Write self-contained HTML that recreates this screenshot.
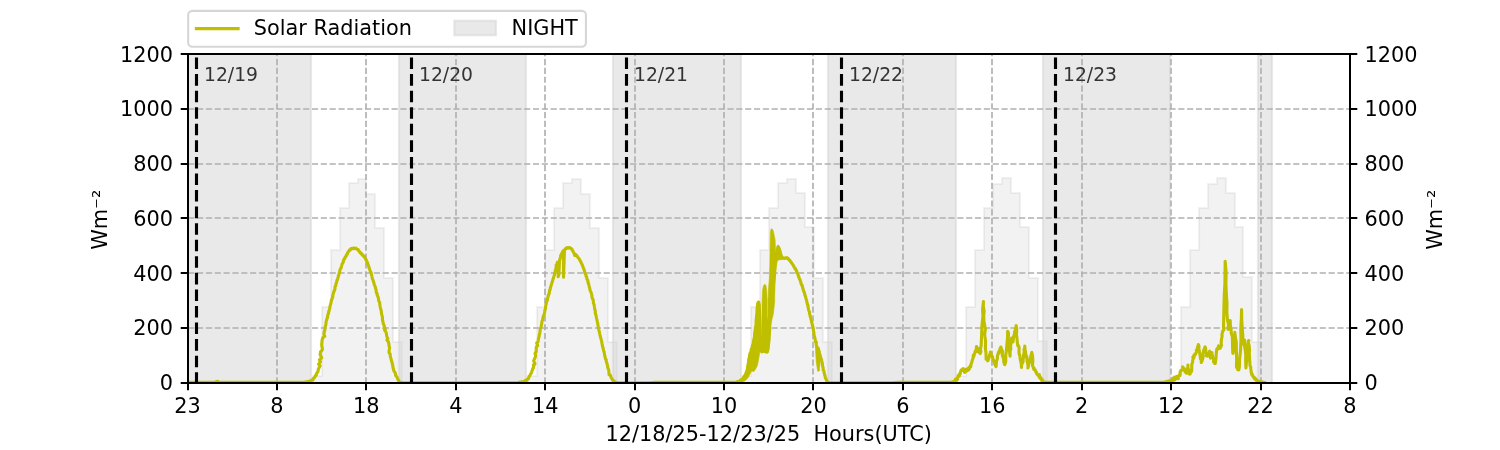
<!DOCTYPE html>
<html><head><meta charset="utf-8"><style>html,body{margin:0;padding:0;background:#fff;width:1500px;height:450px;overflow:hidden}svg{display:block;will-change:transform}</style></head>
<body>
<svg width="1500" height="450" viewBox="0 0 1500 450" font-family="'DejaVu Sans', 'Liberation Sans', sans-serif">
<rect x="0" y="0" width="1500" height="450" fill="#ffffff"/>
<defs><clipPath id="ax"><rect x="187.5" y="54.0" width="1162.5" height="329.0"/></clipPath></defs>
<g clip-path="url(#ax)">
<polygon points="313.00,383.00 313.00,376.00 322.00,376.00 322.00,307.00 331.00,307.00 331.00,250.00 340.00,250.00 340.00,208.00 349.00,208.00 349.00,183.00 358.00,183.00 358.00,179.00 366.00,179.00 366.00,194.00 375.00,194.00 375.00,228.00 384.00,228.00 384.00,278.00 393.00,278.00 393.00,342.00 402.00,342.00 402.00,383.00" fill="#808080" fill-opacity="0.1" stroke="#808080" stroke-opacity="0.1" stroke-width="2.08"/>
<polygon points="528.00,383.00 528.00,376.00 537.00,376.00 537.00,307.00 545.00,307.00 545.00,250.00 554.00,250.00 554.00,208.00 563.00,208.00 563.00,183.00 572.00,183.00 572.00,179.00 581.00,179.00 581.00,194.00 590.00,194.00 590.00,228.00 599.00,228.00 599.00,278.00 608.00,278.00 608.00,342.00 617.00,342.00 617.00,383.00" fill="#808080" fill-opacity="0.1" stroke="#808080" stroke-opacity="0.1" stroke-width="2.08"/>
<polygon points="742.00,383.00 742.00,376.00 751.00,376.00 751.00,307.00 760.00,307.00 760.00,250.00 769.00,250.00 769.00,208.00 778.00,208.00 778.00,183.00 787.00,183.00 787.00,179.00 796.00,179.00 796.00,193.00 805.00,193.00 805.00,227.00 814.00,227.00 814.00,278.00 823.00,278.00 823.00,342.00 832.00,342.00 832.00,383.00" fill="#808080" fill-opacity="0.1" stroke="#808080" stroke-opacity="0.1" stroke-width="2.08"/>
<polygon points="957.00,383.00 957.00,376.00 966.00,376.00 966.00,307.00 975.00,307.00 975.00,250.00 984.00,250.00 984.00,208.00 993.00,208.00 993.00,184.00 1002.00,184.00 1002.00,178.00 1011.00,178.00 1011.00,193.00 1020.00,193.00 1020.00,227.00 1029.00,227.00 1029.00,278.00 1038.00,278.00 1038.00,341.00 1047.00,341.00 1047.00,383.00" fill="#808080" fill-opacity="0.1" stroke="#808080" stroke-opacity="0.1" stroke-width="2.08"/>
<polygon points="1172.00,383.00 1172.00,376.00 1181.00,376.00 1181.00,307.00 1190.00,307.00 1190.00,250.00 1199.00,250.00 1199.00,208.00 1208.00,208.00 1208.00,184.00 1217.00,184.00 1217.00,178.00 1226.00,178.00 1226.00,193.00 1235.00,193.00 1235.00,227.00 1243.00,227.00 1243.00,277.00 1252.00,277.00 1252.00,342.00 1261.00,342.00 1261.00,383.00" fill="#808080" fill-opacity="0.1" stroke="#808080" stroke-opacity="0.1" stroke-width="2.08"/>
<rect x="188" y="49.0" width="123" height="338.5" fill="#d3d3d3" fill-opacity="0.5" stroke="#d3d3d3" stroke-opacity="0.5" stroke-width="2.08"/>
<rect x="399" y="49.0" width="127" height="338.5" fill="#d3d3d3" fill-opacity="0.5" stroke="#d3d3d3" stroke-opacity="0.5" stroke-width="2.08"/>
<rect x="613" y="49.0" width="128" height="338.5" fill="#d3d3d3" fill-opacity="0.5" stroke="#d3d3d3" stroke-opacity="0.5" stroke-width="2.08"/>
<rect x="828" y="49.0" width="128" height="338.5" fill="#d3d3d3" fill-opacity="0.5" stroke="#d3d3d3" stroke-opacity="0.5" stroke-width="2.08"/>
<rect x="1043" y="49.0" width="127" height="338.5" fill="#d3d3d3" fill-opacity="0.5" stroke="#d3d3d3" stroke-opacity="0.5" stroke-width="2.08"/>
<rect x="1258" y="49.0" width="14" height="338.5" fill="#d3d3d3" fill-opacity="0.5" stroke="#d3d3d3" stroke-opacity="0.5" stroke-width="2.08"/>
<line x1="277" y1="383.4" x2="277" y2="54.0" stroke="#b0b0b0" stroke-width="1.667" stroke-dasharray="6.17 2.67"/>
<line x1="366" y1="383.4" x2="366" y2="54.0" stroke="#b0b0b0" stroke-width="1.667" stroke-dasharray="6.17 2.67"/>
<line x1="456" y1="383.4" x2="456" y2="54.0" stroke="#b0b0b0" stroke-width="1.667" stroke-dasharray="6.17 2.67"/>
<line x1="545" y1="383.4" x2="545" y2="54.0" stroke="#b0b0b0" stroke-width="1.667" stroke-dasharray="6.17 2.67"/>
<line x1="635" y1="383.4" x2="635" y2="54.0" stroke="#b0b0b0" stroke-width="1.667" stroke-dasharray="6.17 2.67"/>
<line x1="724" y1="383.4" x2="724" y2="54.0" stroke="#b0b0b0" stroke-width="1.667" stroke-dasharray="6.17 2.67"/>
<line x1="813" y1="383.4" x2="813" y2="54.0" stroke="#b0b0b0" stroke-width="1.667" stroke-dasharray="6.17 2.67"/>
<line x1="903" y1="383.4" x2="903" y2="54.0" stroke="#b0b0b0" stroke-width="1.667" stroke-dasharray="6.17 2.67"/>
<line x1="992" y1="383.4" x2="992" y2="54.0" stroke="#b0b0b0" stroke-width="1.667" stroke-dasharray="6.17 2.67"/>
<line x1="1082" y1="383.4" x2="1082" y2="54.0" stroke="#b0b0b0" stroke-width="1.667" stroke-dasharray="6.17 2.67"/>
<line x1="1171" y1="383.4" x2="1171" y2="54.0" stroke="#b0b0b0" stroke-width="1.667" stroke-dasharray="6.17 2.67"/>
<line x1="1261" y1="383.4" x2="1261" y2="54.0" stroke="#b0b0b0" stroke-width="1.667" stroke-dasharray="6.17 2.67"/>
<line x1="188.2" y1="328" x2="1350.0" y2="328" stroke="#b0b0b0" stroke-width="1.667" stroke-dasharray="6.17 2.67"/>
<line x1="188.2" y1="273" x2="1350.0" y2="273" stroke="#b0b0b0" stroke-width="1.667" stroke-dasharray="6.17 2.67"/>
<line x1="188.2" y1="218" x2="1350.0" y2="218" stroke="#b0b0b0" stroke-width="1.667" stroke-dasharray="6.17 2.67"/>
<line x1="188.2" y1="164" x2="1350.0" y2="164" stroke="#b0b0b0" stroke-width="1.667" stroke-dasharray="6.17 2.67"/>
<line x1="188.2" y1="109" x2="1350.0" y2="109" stroke="#b0b0b0" stroke-width="1.667" stroke-dasharray="6.17 2.67"/>
<polyline points="187.50,382.26 187.80,382.26 188.10,382.26 188.41,382.26 188.71,382.26 189.01,382.26 189.31,382.26 189.62,382.26 189.92,382.26 190.22,382.26 190.52,382.26 190.82,382.26 191.13,382.26 191.43,382.26 191.73,382.26 192.03,382.26 192.34,382.26 192.64,382.26 192.94,382.26 193.24,382.26 193.54,382.26 193.85,382.26 194.15,382.26 194.45,382.26 194.75,382.26 195.05,382.26 195.36,382.26 195.66,382.26 195.96,382.26 196.26,382.26 196.57,382.26 196.87,382.26 197.17,382.26 197.47,382.26 197.77,382.26 198.08,382.26 198.38,382.26 198.68,382.26 198.98,382.26 199.29,382.26 199.59,382.26 199.89,382.26 200.19,382.26 200.49,382.26 200.80,382.26 201.10,382.26 201.40,382.26 201.70,382.26 202.01,382.26 202.31,382.26 202.61,382.26 202.91,382.26 203.21,382.26 203.52,382.26 203.82,382.26 204.12,382.26 204.42,382.26 204.73,382.26 205.03,382.26 205.33,382.26 205.63,382.26 205.93,382.26 206.24,382.26 206.54,382.26 206.84,382.26 207.14,382.26 207.45,382.26 207.75,382.26 208.05,382.26 208.35,382.26 208.65,382.26 208.96,382.26 209.26,382.26 209.56,382.26 209.86,382.26 210.16,382.26 210.47,382.26 210.77,382.26 211.07,382.26 211.37,382.26 211.68,382.26 211.98,382.26 212.28,382.26 212.58,382.26 212.88,382.26 213.19,382.26 213.49,382.26 213.79,382.26 214.09,382.26 214.40,382.26 214.70,382.26 215.00,382.26 215.40,382.04 215.80,381.82 216.20,381.60 216.53,381.53 216.87,381.47 217.20,381.40 217.53,381.47 217.87,381.53 218.20,381.60 218.50,381.76 218.80,381.93 219.10,382.10 219.40,382.26 219.70,382.26 220.00,382.26 220.30,382.26 220.60,382.26 220.90,382.26 221.20,382.26 221.50,382.26 221.80,382.26 222.10,382.26 222.40,382.26 222.70,382.26 223.00,382.26 223.30,382.26 223.60,382.26 223.90,382.26 224.20,382.26 224.50,382.26 224.80,382.26 225.10,382.26 225.40,382.26 225.70,382.26 226.00,382.26 226.30,382.26 226.60,382.26 226.90,382.26 227.20,382.26 227.50,382.26 227.80,382.26 228.10,382.26 228.40,382.26 228.70,382.26 229.00,382.26 229.30,382.26 229.60,382.26 229.90,382.26 230.20,382.26 230.50,382.26 230.80,382.26 231.10,382.26 231.40,382.26 231.70,382.26 232.00,382.26 232.30,382.26 232.60,382.26 232.90,382.26 233.20,382.26 233.50,382.26 233.80,382.26 234.10,382.26 234.40,382.26 234.70,382.26 235.00,382.26 235.30,382.26 235.60,382.26 235.90,382.26 236.20,382.26 236.50,382.26 236.80,382.26 237.10,382.26 237.40,382.26 237.70,382.26 238.00,382.26 238.30,382.26 238.60,382.26 238.90,382.26 239.20,382.26 239.50,382.26 239.80,382.26 240.10,382.26 240.40,382.26 240.70,382.26 241.00,382.26 241.30,382.26 241.60,382.26 241.90,382.26 242.20,382.26 242.50,382.26 242.80,382.26 243.10,382.26 243.40,382.26 243.70,382.26 244.00,382.26 244.30,382.26 244.60,382.26 244.90,382.26 245.20,382.26 245.50,382.26 245.80,382.26 246.10,382.26 246.40,382.26 246.70,382.26 247.00,382.26 247.30,382.26 247.60,382.26 247.90,382.26 248.20,382.26 248.50,382.26 248.80,382.26 249.10,382.26 249.40,382.26 249.70,382.26 250.00,382.26 250.30,382.26 250.60,382.26 250.90,382.26 251.20,382.26 251.50,382.26 251.80,382.26 252.10,382.26 252.40,382.26 252.70,382.26 253.00,382.26 253.30,382.26 253.60,382.26 253.90,382.26 254.20,382.26 254.50,382.26 254.80,382.26 255.10,382.26 255.40,382.26 255.70,382.26 256.00,382.26 256.30,382.26 256.60,382.26 256.90,382.26 257.20,382.26 257.50,382.26 257.80,382.26 258.10,382.26 258.40,382.26 258.70,382.26 259.00,382.26 259.30,382.26 259.60,382.26 259.90,382.26 260.20,382.26 260.50,382.26 260.80,382.26 261.10,382.26 261.40,382.26 261.70,382.26 262.00,382.26 262.30,382.26 262.60,382.26 262.90,382.26 263.20,382.26 263.50,382.26 263.80,382.26 264.10,382.26 264.40,382.26 264.70,382.26 265.00,382.26 265.30,382.26 265.60,382.26 265.90,382.26 266.20,382.26 266.50,382.26 266.80,382.26 267.10,382.26 267.40,382.26 267.70,382.26 268.00,382.26 268.30,382.26 268.60,382.26 268.90,382.26 269.20,382.26 269.50,382.26 269.80,382.26 270.10,382.26 270.40,382.26 270.70,382.26 271.00,382.26 271.30,382.26 271.60,382.26 271.90,382.26 272.20,382.26 272.50,382.26 272.80,382.26 273.10,382.26 273.40,382.26 273.70,382.26 274.00,382.26 274.30,382.26 274.60,382.26 274.90,382.26 275.20,382.26 275.50,382.26 275.80,382.26 276.10,382.26 276.40,382.26 276.70,382.26 277.00,382.26 277.30,382.26 277.60,382.26 277.90,382.26 278.20,382.26 278.50,382.26 278.80,382.26 279.10,382.26 279.40,382.26 279.70,382.26 280.00,382.26 280.30,382.26 280.60,382.26 280.90,382.26 281.20,382.26 281.50,382.26 281.80,382.26 282.10,382.26 282.40,382.26 282.70,382.26 283.00,382.26 283.30,382.26 283.60,382.26 283.90,382.26 284.20,382.26 284.50,382.26 284.80,382.26 285.10,382.26 285.40,382.26 285.70,382.26 286.00,382.26 286.30,382.26 286.60,382.26 286.90,382.26 287.20,382.26 287.50,382.26 287.80,382.26 288.10,382.26 288.40,382.26 288.70,382.26 289.00,382.26 289.30,382.26 289.60,382.26 289.90,382.26 290.20,382.26 290.50,382.26 290.80,382.26 291.10,382.26 291.40,382.26 291.70,382.26 292.00,382.26 292.30,382.26 292.60,382.26 292.90,382.26 293.20,382.26 293.50,382.26 293.80,382.26 294.10,382.26 294.40,382.26 294.70,382.26 295.00,382.26 295.30,382.26 295.60,382.26 295.90,382.26 296.20,382.26 296.50,382.26 296.80,382.26 297.10,382.26 297.40,382.26 297.70,382.26 298.00,382.26 298.30,382.26 298.60,382.26 298.90,382.26 299.20,382.26 299.50,382.26 299.80,382.26 300.10,382.26 300.40,382.26 300.70,382.26 301.00,382.26 301.30,382.26 301.60,382.26 301.90,382.26 302.20,382.26 302.50,382.26 302.80,382.26 303.10,382.26 303.40,382.26 303.70,382.26 304.00,382.26 304.33,382.17 304.67,382.09 305.00,382.00 305.30,381.96 305.60,381.92 305.90,381.88 306.20,381.84 306.50,381.80 306.80,381.76 307.10,381.72 307.40,381.68 307.70,381.64 308.00,381.60 308.31,381.51 308.62,381.42 308.93,381.33 309.24,381.24 309.56,381.16 309.87,381.07 310.15,381.02 310.70,380.86 310.80,380.86 310.96,380.62 311.49,380.63 311.54,380.11 311.85,380.27 312.47,379.55 312.93,380.01 313.08,379.58 313.16,378.69 313.68,378.26 313.85,377.92 314.10,377.61 314.64,377.41 315.01,376.80 315.33,376.23 315.65,375.38 316.25,375.30 316.50,374.51 316.57,373.59 316.89,372.90 317.46,372.33 317.82,371.52 318.20,371.04 318.05,369.80 318.91,367.98 320.16,365.90 318.56,364.13 320.51,361.77 319.39,359.83 321.67,357.76 320.16,354.75 320.47,352.06 322.35,349.68 322.16,347.45 321.67,345.23 321.86,342.64 322.16,339.92 322.71,337.77 324.72,336.30 323.92,334.27 324.22,331.93 324.88,330.10 324.83,328.68 325.22,326.50 325.84,324.88 325.93,323.03 326.16,321.72 326.57,320.07 326.95,318.72 327.55,317.49 327.67,316.51 327.79,314.76 328.47,313.97 328.45,312.28 329.01,311.56 329.05,310.32 329.70,308.82 329.79,307.22 329.91,306.57 330.32,305.14 330.64,303.98 331.12,302.36 331.23,301.40 331.48,299.81 332.05,299.09 332.39,297.54 332.85,296.33 332.72,295.22 333.25,293.92 333.43,292.99 333.94,291.67 334.15,291.04 334.78,289.73 334.95,288.52 334.99,286.98 335.24,286.44 335.90,285.32 335.88,283.94 336.44,282.85 336.68,281.89 336.88,280.42 337.53,279.51 337.86,278.22 338.21,277.21 338.31,275.90 338.91,274.88 338.99,273.66 339.54,272.36 339.74,271.07 340.04,270.08 340.11,269.27 340.89,268.60 341.08,267.43 341.41,266.73 341.59,266.08 341.73,265.19 342.03,264.26 342.58,263.17 343.01,262.52 343.29,261.99 343.43,260.52 343.78,260.16 344.05,258.97 344.72,258.74 344.80,258.32 345.06,257.59 345.31,256.84 345.93,256.61 346.28,255.66 346.45,255.03 346.54,254.58 347.21,254.25 347.46,253.75 347.56,252.62 347.96,252.12 348.16,251.64 348.70,251.36 348.88,251.26 349.55,250.65 349.44,250.02 350.17,249.69 350.43,249.72 350.57,249.54 350.76,248.75 351.31,248.57 351.82,248.62 351.81,248.38 352.38,248.56 352.71,248.61 353.13,248.72 353.39,248.09 353.60,248.09 353.68,248.31 354.35,248.12 354.44,248.25 354.97,248.39 355.24,248.57 355.45,248.60 356.04,248.24 356.38,248.82 356.31,248.77 356.90,249.22 357.11,249.11 357.69,249.41 358.06,249.56 358.24,249.76 358.61,250.57 358.90,250.89 359.02,251.40 359.74,251.83 359.83,252.09 360.04,252.56 360.62,252.55 360.55,253.00 361.10,253.62 361.38,253.48 361.85,253.89 362.16,254.28 362.24,255.03 362.46,254.89 362.96,255.61 363.43,255.90 363.80,256.07 364.11,256.10 364.06,256.72 364.40,257.33 364.87,257.65 365.27,258.14 365.31,258.48 365.87,259.31 365.85,259.75 366.53,260.28 366.64,260.81 366.92,261.78 367.25,262.21 367.73,263.31 367.75,264.35 368.13,264.97 368.50,265.51 368.72,266.59 369.23,267.78 369.18,268.30 369.41,269.11 370.06,270.27 370.19,270.70 370.35,271.75 371.01,272.24 371.26,273.26 371.29,274.49 371.86,275.65 372.02,276.95 372.22,278.12 372.55,279.06 372.94,279.93 373.40,281.19 373.65,282.27 374.05,283.18 374.21,284.61 374.75,285.63 375.18,286.78 375.50,287.67 375.77,289.23 376.17,290.03 376.20,291.61 376.47,292.82 377.13,293.37 377.13,294.94 377.46,295.65 378.07,297.03 378.38,297.98 378.51,299.52 378.64,300.34 379.29,301.99 379.73,302.81 379.80,304.65 380.10,305.98 380.24,306.93 380.50,308.29 381.03,310.01 381.36,311.65 381.50,313.59 382.16,316.04 382.53,317.32 382.42,319.82 382.95,321.59 383.21,323.28 383.64,324.45 384.10,325.25 384.59,327.30 383.96,328.13 385.28,329.30 384.61,330.27 385.49,331.34 386.48,333.35 386.45,334.62 386.62,335.39 386.88,336.70 387.88,338.45 386.89,340.01 388.08,341.33 388.52,342.41 388.98,344.33 388.93,345.67 389.36,346.76 389.60,347.87 389.24,350.27 388.96,352.16 390.23,354.39 390.35,356.61 390.88,358.19 391.19,359.58 391.44,360.68 391.98,362.09 392.14,363.40 392.59,364.12 392.72,365.85 392.85,366.84 393.06,367.93 393.53,369.09 393.78,370.88 394.25,371.34 394.78,372.12 395.12,372.91 395.35,373.25 395.57,374.47 395.62,375.33 396.00,375.74 396.33,376.50 396.87,376.80 397.35,377.67 397.45,378.41 397.68,378.80 398.14,379.60 398.27,380.33 398.59,380.45 399.00,381.40 399.33,381.60 399.67,381.80 400.00,382.00 400.33,382.20 400.67,382.40 401.00,382.60 401.30,382.62 401.60,382.63 401.90,382.65 402.20,382.66 402.50,382.68 402.80,382.69 403.10,382.70 403.40,382.72 403.70,382.74 404.00,382.75 404.30,382.76 404.60,382.78 404.90,382.80 405.20,382.81 405.50,382.82 405.80,382.84 406.10,382.85 406.40,382.87 406.70,382.88 407.00,382.90 407.00,382.90 407.30,382.90 407.60,382.90 407.90,382.90 408.20,382.90 408.50,382.90 408.80,382.90 409.10,382.90 409.40,382.90 409.70,382.90 410.00,382.90 410.30,382.90 410.60,382.90 410.90,382.90 411.20,382.90 411.50,382.90 411.80,382.90 412.10,382.90 412.40,382.90 412.70,382.90 413.00,382.90 413.30,382.90 413.60,382.90 413.90,382.90 414.20,382.90 414.50,382.90 414.80,382.90 415.10,382.90 415.40,382.90 415.70,382.90 416.00,382.90 416.30,382.90 416.60,382.90 416.90,382.90 417.20,382.90 417.50,382.90 417.80,382.90 418.10,382.90 418.40,382.90 418.70,382.90 419.00,382.90 419.30,382.90 419.60,382.90 419.90,382.90 420.20,382.90 420.50,382.90 420.80,382.90 421.10,382.90 421.40,382.90 421.70,382.90 422.00,382.90 422.30,382.90 422.60,382.90 422.90,382.90 423.20,382.90 423.50,382.90 423.80,382.90 424.10,382.90 424.40,382.90 424.70,382.90 425.00,382.90 425.30,382.90 425.60,382.90 425.90,382.90 426.20,382.90 426.50,382.90 426.80,382.90 427.10,382.90 427.40,382.90 427.70,382.90 428.00,382.90 428.30,382.90 428.60,382.90 428.90,382.90 429.20,382.90 429.50,382.90 429.80,382.90 430.10,382.90 430.40,382.90 430.70,382.90 431.00,382.90 431.30,382.90 431.60,382.90 431.90,382.90 432.20,382.90 432.50,382.90 432.80,382.90 433.10,382.90 433.40,382.90 433.70,382.90 434.00,382.90 434.30,382.90 434.60,382.90 434.90,382.90 435.20,382.90 435.50,382.90 435.80,382.90 436.10,382.90 436.40,382.90 436.70,382.90 437.00,382.90 437.30,382.90 437.60,382.90 437.90,382.90 438.20,382.90 438.50,382.90 438.80,382.90 439.10,382.90 439.40,382.90 439.70,382.90 440.00,382.90 440.30,382.90 440.60,382.90 440.90,382.90 441.20,382.90 441.50,382.90 441.80,382.90 442.10,382.90 442.40,382.90 442.70,382.90 443.00,382.90 443.30,382.90 443.60,382.90 443.90,382.90 444.20,382.90 444.50,382.90 444.80,382.90 445.10,382.90 445.40,382.90 445.70,382.90 446.00,382.90 446.30,382.90 446.60,382.90 446.90,382.90 447.20,382.90 447.50,382.90 447.80,382.90 448.10,382.90 448.40,382.90 448.70,382.90 449.00,382.90 449.30,382.90 449.60,382.90 449.90,382.90 450.20,382.90 450.50,382.90 450.80,382.90 451.10,382.90 451.40,382.90 451.70,382.90 452.00,382.90 452.30,382.90 452.60,382.90 452.90,382.90 453.20,382.90 453.50,382.90 453.80,382.90 454.10,382.90 454.40,382.90 454.70,382.90 455.00,382.90 455.30,382.90 455.60,382.90 455.90,382.90 456.20,382.90 456.50,382.90 456.80,382.90 457.10,382.90 457.40,382.90 457.70,382.90 458.00,382.90 458.30,382.90 458.60,382.90 458.90,382.90 459.20,382.90 459.50,382.90 459.80,382.90 460.10,382.90 460.40,382.90 460.70,382.90 461.00,382.90 461.30,382.90 461.60,382.90 461.90,382.90 462.20,382.90 462.50,382.90 462.80,382.90 463.10,382.90 463.40,382.90 463.70,382.90 464.00,382.90 464.30,382.90 464.60,382.90 464.90,382.90 465.20,382.90 465.50,382.90 465.80,382.90 466.10,382.90 466.40,382.90 466.70,382.90 467.00,382.90 467.30,382.90 467.60,382.90 467.90,382.90 468.20,382.90 468.50,382.90 468.80,382.90 469.10,382.90 469.40,382.90 469.70,382.90 470.00,382.90 470.30,382.90 470.60,382.90 470.90,382.90 471.20,382.90 471.50,382.90 471.80,382.90 472.10,382.90 472.40,382.90 472.70,382.90 473.00,382.90 473.30,382.90 473.60,382.90 473.90,382.90 474.20,382.90 474.50,382.90 474.80,382.90 475.10,382.90 475.40,382.90 475.70,382.90 476.00,382.90 476.30,382.90 476.60,382.90 476.90,382.90 477.20,382.90 477.50,382.90 477.80,382.90 478.10,382.90 478.40,382.90 478.70,382.90 479.00,382.90 479.30,382.90 479.60,382.90 479.90,382.90 480.20,382.90 480.50,382.90 480.80,382.90 481.10,382.90 481.40,382.90 481.70,382.90 482.00,382.90 482.30,382.90 482.60,382.90 482.90,382.90 483.20,382.90 483.50,382.90 483.80,382.90 484.10,382.90 484.40,382.90 484.70,382.90 485.00,382.90 485.30,382.90 485.60,382.90 485.90,382.90 486.20,382.90 486.50,382.90 486.80,382.90 487.10,382.90 487.40,382.90 487.70,382.90 488.00,382.90 488.30,382.90 488.60,382.90 488.90,382.90 489.20,382.90 489.50,382.90 489.80,382.90 490.10,382.90 490.40,382.90 490.70,382.90 491.00,382.90 491.30,382.90 491.60,382.90 491.90,382.90 492.20,382.90 492.50,382.90 492.80,382.90 493.10,382.90 493.40,382.90 493.70,382.90 494.00,382.90 494.30,382.90 494.60,382.90 494.90,382.90 495.20,382.90 495.50,382.90 495.80,382.90 496.10,382.90 496.40,382.90 496.70,382.90 497.00,382.90 497.30,382.90 497.60,382.90 497.90,382.90 498.20,382.90 498.50,382.90 498.80,382.90 499.10,382.90 499.40,382.90 499.70,382.90 500.00,382.90 500.30,382.90 500.60,382.90 500.90,382.90 501.20,382.90 501.50,382.90 501.80,382.90 502.10,382.90 502.40,382.90 502.70,382.90 503.00,382.90 503.30,382.90 503.60,382.90 503.90,382.90 504.20,382.90 504.50,382.90 504.80,382.90 505.10,382.90 505.40,382.90 505.70,382.90 506.00,382.90 506.30,382.90 506.60,382.90 506.90,382.90 507.20,382.90 507.50,382.90 507.80,382.90 508.10,382.90 508.40,382.90 508.70,382.90 509.00,382.90 509.30,382.90 509.60,382.90 509.90,382.90 510.20,382.90 510.50,382.90 510.80,382.90 511.10,382.90 511.40,382.90 511.70,382.90 512.00,382.90 512.30,382.90 512.60,382.90 512.90,382.90 513.20,382.90 513.50,382.90 513.80,382.90 514.10,382.90 514.40,382.90 514.70,382.90 515.00,382.90 515.30,382.90 515.60,382.90 515.90,382.90 516.20,382.90 516.50,382.90 516.80,382.90 517.10,382.90 517.40,382.90 517.70,382.90 518.00,382.90 518.33,382.67 518.67,382.43 519.00,382.20 519.31,382.16 519.61,382.13 519.92,382.09 520.23,382.06 520.54,382.02 520.84,381.99 521.15,381.95 521.46,381.91 521.76,381.88 522.07,381.84 522.38,381.81 522.69,381.77 522.99,381.74 523.30,381.70 523.60,381.57 523.90,381.43 524.20,381.30 524.50,381.17 524.80,381.03 524.97,380.58 525.23,380.94 525.64,380.91 526.12,380.19 526.57,380.50 526.44,380.16 526.95,379.54 527.55,379.06 527.65,379.23 528.08,378.59 528.54,378.52 528.69,377.47 529.04,377.15 529.17,376.31 529.67,375.80 529.97,375.62 530.32,374.57 530.72,373.92 531.16,373.24 531.61,372.78 531.82,371.52 531.83,371.05 532.49,369.94 532.60,368.77 533.37,368.06 533.48,366.96 534.11,365.34 533.40,364.95 535.03,363.68 533.60,360.86 534.38,359.23 535.41,356.90 535.56,354.87 534.97,353.48 536.24,351.43 536.23,349.28 536.24,347.14 537.65,345.64 536.65,342.92 537.97,341.94 538.26,340.20 538.40,338.78 538.90,337.41 539.14,336.39 539.29,334.63 539.81,333.44 539.96,331.61 540.11,330.50 540.41,328.48 540.97,327.30 541.34,325.71 541.70,324.09 541.73,323.04 541.98,321.33 542.61,320.14 542.70,318.50 543.05,317.66 543.37,315.98 543.85,315.05 544.27,314.06 544.58,312.46 544.84,311.11 544.91,309.93 545.56,308.62 545.55,306.58 545.95,304.92 546.31,303.28 546.55,301.74 547.16,300.57 547.50,299.44 547.48,298.42 548.15,296.93 548.04,295.94 548.61,294.82 549.14,293.73 549.38,292.16 549.56,291.52 549.65,289.87 550.29,289.29 550.28,287.95 550.62,286.87 551.17,285.45 551.26,284.74 551.71,283.67 551.95,282.30 552.53,281.46 552.60,280.30 553.01,279.35 553.41,278.07 553.66,277.17 553.98,276.20 554.27,275.19 554.63,273.94 554.71,272.92 555.15,271.65 555.27,270.40 555.75,269.94 555.88,268.32 556.10,267.45 556.23,267.39 556.17,265.02 556.57,264.65 557.94,262.66 557.25,262.32 558.53,262.32 558.16,276.72 558.90,274.43 559.48,260.43 560.50,257.35 560.64,255.65 560.98,255.16 561.39,254.19 561.98,253.33 562.04,252.79 562.71,251.59 562.97,251.57 563.39,250.52 563.53,277.15 564.48,250.08 564.66,249.71 564.89,249.54 565.38,248.78 565.36,248.70 565.84,248.69 566.31,248.31 566.33,247.76 566.77,247.73 567.40,247.81 567.65,248.05 567.82,247.62 568.13,247.69 568.39,247.82 569.15,247.93 569.11,247.64 569.77,247.62 569.99,247.98 570.57,248.30 570.86,248.34 571.16,248.66 571.57,248.67 571.86,249.00 572.05,249.67 572.18,250.33 572.58,250.42 572.79,250.86 573.28,251.73 573.53,252.28 573.70,252.65 574.18,253.63 574.76,255.61 574.81,254.91 575.61,254.32 575.87,254.84 575.92,255.58 576.65,255.39 576.89,255.82 577.10,256.36 577.40,256.59 577.78,257.32 578.04,257.49 578.61,258.08 579.04,258.74 579.26,259.08 579.64,259.41 579.63,259.92 580.23,260.85 580.31,261.13 580.97,261.76 580.90,262.26 581.25,262.95 581.68,263.66 582.25,264.67 582.35,265.58 582.79,266.45 582.91,266.86 583.23,267.40 583.53,268.63 584.13,269.45 584.28,270.08 584.29,270.88 584.78,272.11 584.99,272.91 585.52,274.20 586.01,275.08 586.01,276.19 586.71,277.03 586.77,278.00 586.99,279.15 587.74,280.01 587.94,281.40 588.01,282.65 588.55,283.30 588.61,284.50 589.19,285.99 589.39,287.32 589.74,288.16 589.95,289.69 590.29,290.81 590.82,291.74 591.14,292.72 591.63,294.42 591.90,295.33 591.87,296.67 592.27,297.91 592.56,298.87 593.17,299.78 593.33,301.28 593.38,302.93 594.16,305.04 594.30,306.18 594.61,308.06 594.77,309.53 595.29,310.71 595.29,312.60 595.57,314.12 596.09,315.55 596.37,317.19 596.70,318.82 597.04,320.19 597.36,321.84 597.81,323.74 597.87,325.18 598.26,326.95 598.63,328.58 598.79,330.03 599.27,331.22 599.35,332.21 599.73,333.83 600.01,334.85 600.27,336.40 600.51,337.09 601.01,338.97 601.32,340.05 601.63,341.13 601.85,342.25 601.91,343.80 602.40,345.05 602.48,346.55 603.01,347.51 603.20,348.91 603.47,349.97 604.11,351.88 604.28,353.10 604.46,354.34 604.66,355.59 605.13,356.98 605.21,358.07 605.53,359.05 606.25,359.84 606.21,361.21 606.56,362.21 607.15,363.90 607.21,364.75 607.62,365.69 607.65,367.45 608.09,368.34 608.72,369.83 608.84,371.79 609.10,374.80 609.72,374.54 610.02,374.90 610.16,375.02 610.69,375.85 610.71,376.45 611.07,377.49 611.36,377.80 612.05,378.81 612.50,380.06 612.74,379.80 613.06,380.62 613.26,380.28 613.48,380.69 613.94,381.09 614.27,381.34 614.60,381.60 614.94,381.79 615.29,381.97 615.63,382.16 615.97,382.34 616.31,382.53 616.66,382.71 617.00,382.90 617.33,382.90 617.67,382.90 618.00,382.90 618.30,382.90 618.60,382.90 618.90,382.90 619.20,382.90 619.50,382.90 619.80,382.90 620.10,382.90 620.40,382.90 620.70,382.90 621.00,382.90 621.30,382.90 621.60,382.90 621.90,382.90 622.20,382.90 622.50,382.90 622.80,382.90 623.10,382.90 623.40,382.90 623.70,382.90 624.00,382.90 624.30,382.90 624.60,382.90 624.90,382.90 625.20,382.90 625.50,382.90 625.80,382.90 626.10,382.90 626.40,382.90 626.70,382.90 627.00,382.90 627.30,382.90 627.60,382.90 627.90,382.90 628.20,382.90 628.50,382.90 628.80,382.90 629.10,382.90 629.40,382.90 629.70,382.90 630.00,382.90 630.30,382.90 630.60,382.90 630.90,382.90 631.20,382.90 631.50,382.90 631.80,382.90 632.10,382.90 632.40,382.90 632.70,382.90 633.00,382.90 633.30,382.90 633.60,382.90 633.90,382.90 634.20,382.90 634.50,382.90 634.80,382.90 635.10,382.90 635.40,382.90 635.70,382.90 636.00,382.90 636.30,382.90 636.60,382.90 636.90,382.90 637.20,382.90 637.50,382.90 637.80,382.90 638.10,382.90 638.40,382.90 638.70,382.90 639.00,382.90 639.30,382.90 639.60,382.90 639.90,382.90 640.20,382.90 640.50,382.90 640.80,382.90 641.10,382.90 641.40,382.90 641.70,382.90 642.00,382.90 642.30,382.90 642.60,382.90 642.90,382.90 643.20,382.90 643.50,382.90 643.80,382.90 644.10,382.90 644.40,382.90 644.70,382.90 645.00,382.90 645.30,382.90 645.60,382.90 645.90,382.90 646.20,382.90 646.50,382.90 646.80,382.90 647.10,382.90 647.40,382.90 647.70,382.90 648.00,382.90 648.30,382.88 648.61,382.85 648.91,382.83 649.22,382.80 649.52,382.78 649.83,382.76 650.13,382.73 650.43,382.71 650.74,382.68 651.04,382.66 651.35,382.64 651.65,382.61 651.96,382.59 652.26,382.57 652.57,382.54 652.87,382.52 653.17,382.49 653.48,382.47 653.78,382.45 654.09,382.42 654.39,382.40 654.70,382.37 655.00,382.35 655.30,382.35 655.60,382.35 655.90,382.35 656.20,382.35 656.50,382.35 656.80,382.35 657.11,382.35 657.41,382.35 657.71,382.35 658.01,382.35 658.31,382.35 658.61,382.35 658.91,382.35 659.21,382.35 659.51,382.35 659.81,382.35 660.11,382.35 660.41,382.35 660.71,382.35 661.02,382.35 661.32,382.35 661.62,382.35 661.92,382.35 662.22,382.35 662.52,382.35 662.82,382.35 663.12,382.34 663.42,382.34 663.72,382.34 664.02,382.34 664.32,382.34 664.62,382.34 664.92,382.34 665.23,382.34 665.53,382.34 665.83,382.34 666.13,382.34 666.43,382.34 666.73,382.34 667.03,382.34 667.33,382.34 667.63,382.34 667.93,382.34 668.23,382.34 668.53,382.34 668.83,382.34 669.14,382.34 669.44,382.34 669.74,382.34 670.04,382.34 670.34,382.34 670.64,382.34 670.94,382.34 671.24,382.34 671.54,382.34 671.84,382.34 672.14,382.34 672.44,382.34 672.74,382.34 673.05,382.34 673.35,382.34 673.65,382.34 673.95,382.34 674.25,382.34 674.55,382.34 674.85,382.34 675.15,382.34 675.45,382.34 675.75,382.34 676.05,382.34 676.35,382.34 676.65,382.34 676.95,382.34 677.26,382.34 677.56,382.34 677.86,382.34 678.16,382.34 678.46,382.34 678.76,382.34 679.06,382.33 679.36,382.33 679.66,382.33 679.96,382.33 680.26,382.33 680.56,382.33 680.86,382.33 681.17,382.33 681.47,382.33 681.77,382.33 682.07,382.33 682.37,382.33 682.67,382.33 682.97,382.33 683.27,382.33 683.57,382.33 683.87,382.33 684.17,382.33 684.47,382.33 684.77,382.33 685.08,382.33 685.38,382.33 685.68,382.33 685.98,382.33 686.28,382.33 686.58,382.33 686.88,382.33 687.18,382.33 687.48,382.33 687.78,382.33 688.08,382.33 688.38,382.33 688.68,382.33 688.98,382.33 689.29,382.33 689.59,382.33 689.89,382.33 690.19,382.33 690.49,382.33 690.79,382.33 691.09,382.33 691.39,382.33 691.69,382.33 691.99,382.33 692.29,382.33 692.59,382.33 692.89,382.33 693.20,382.33 693.50,382.33 693.80,382.33 694.10,382.33 694.40,382.33 694.70,382.33 695.00,382.33 695.30,382.32 695.60,382.32 695.90,382.32 696.20,382.32 696.50,382.32 696.80,382.32 697.11,382.32 697.41,382.32 697.71,382.32 698.01,382.32 698.31,382.32 698.61,382.32 698.91,382.32 699.21,382.32 699.51,382.32 699.81,382.32 700.11,382.32 700.41,382.32 700.71,382.32 701.02,382.32 701.32,382.32 701.62,382.32 701.92,382.32 702.22,382.32 702.52,382.32 702.82,382.32 703.12,382.32 703.42,382.32 703.72,382.32 704.02,382.32 704.32,382.32 704.62,382.32 704.92,382.32 705.23,382.32 705.53,382.32 705.83,382.32 706.13,382.32 706.43,382.32 706.73,382.32 707.03,382.32 707.33,382.32 707.63,382.32 707.93,382.32 708.23,382.32 708.53,382.32 708.83,382.32 709.14,382.32 709.44,382.32 709.74,382.32 710.04,382.32 710.34,382.32 710.64,382.32 710.94,382.32 711.24,382.31 711.54,382.31 711.84,382.31 712.14,382.31 712.44,382.31 712.74,382.31 713.05,382.31 713.35,382.31 713.65,382.31 713.95,382.31 714.25,382.31 714.55,382.31 714.85,382.31 715.15,382.31 715.45,382.31 715.75,382.31 716.05,382.31 716.35,382.31 716.65,382.31 716.95,382.31 717.26,382.31 717.56,382.31 717.86,382.31 718.16,382.31 718.46,382.31 718.76,382.31 719.06,382.31 719.36,382.31 719.66,382.31 719.96,382.31 720.26,382.31 720.56,382.31 720.86,382.31 721.17,382.31 721.47,382.31 721.77,382.31 722.07,382.31 722.37,382.31 722.67,382.31 722.97,382.31 723.27,382.31 723.57,382.31 723.87,382.31 724.17,382.31 724.47,382.31 724.77,382.31 725.08,382.31 725.38,382.31 725.68,382.31 725.98,382.31 726.28,382.31 726.58,382.31 726.88,382.31 727.18,382.30 727.48,382.30 727.78,382.30 728.08,382.30 728.38,382.30 728.68,382.30 728.98,382.30 729.29,382.30 729.59,382.30 729.89,382.30 730.19,382.30 730.49,382.30 730.79,382.30 731.09,382.30 731.39,382.30 731.69,382.30 731.99,382.30 732.29,382.30 732.59,382.30 732.89,382.30 733.20,382.30 733.50,382.30 733.80,382.30 734.10,382.30 734.40,382.30 734.70,382.30 735.00,382.30 735.33,382.27 735.67,382.23 736.00,382.20 736.31,382.12 736.62,382.05 736.92,381.97 737.23,381.89 737.54,381.82 737.85,381.74 738.15,381.66 738.46,381.58 738.77,381.51 739.08,381.43 739.38,381.35 739.69,381.28 740.00,381.20 740.41,380.70 740.46,380.45 741.01,380.55 741.17,380.17 741.73,379.84 741.71,379.35 742.37,379.32 742.35,379.02 742.56,378.98 743.05,378.37 743.40,377.75 743.74,377.63 743.88,377.71 744.09,376.70 744.73,376.02 744.79,375.58 745.04,375.18 745.74,373.92 745.78,373.78 746.04,373.25 746.40,372.08 746.73,371.75 746.93,371.11 747.44,369.21 747.60,367.64 747.99,365.61 748.43,363.57 748.64,361.77 748.85,360.21 749.07,358.99 749.54,357.40 749.57,355.59 749.86,354.06 750.33,352.67 750.72,352.15 751.04,351.26 751.17,349.76 751.43,349.00 751.97,347.96 752.21,346.88 752.45,345.62 753.03,344.03 753.48,342.48 753.49,341.20 753.77,339.87 754.39,337.52 754.55,335.06 754.79,332.72 755.17,329.83 755.50,327.63 756.17,325.20 756.08,320.94 756.53,316.80 757.14,312.68 757.19,309.18 757.74,304.75 757.81,304.34 757.94,303.15 758.70,302.25 758.78,303.53 759.13,304.54 759.27,306.35 760.13,330.16 760.20,334.83 760.69,339.82 760.98,345.30 761.27,347.22 761.91,349.74 761.77,351.93 762.41,351.36 762.59,351.47 763.18,351.06 763.53,350.64 763.61,350.57 763.94,350.20 764.19,349.89 764.51,350.03 764.83,349.79 765.19,349.98 765.57,349.96 766.25,350.13 766.48,350.19 766.54,350.50 767.00,351.10 767.09,351.26 767.34,351.83 767.78,349.96 768.27,347.17 768.43,344.76 769.05,339.90 769.30,335.16 769.70,329.66 769.74,325.25 769.96,320.93 770.41,316.19 770.81,312.49 771.05,309.42 771.17,306.16 771.75,302.87 771.91,299.95 772.32,296.75 772.70,293.83 773.01,291.12 773.02,287.79 773.39,285.15 773.79,280.59 774.35,276.14 774.40,271.89 774.76,266.68 775.06,262.09 775.67,260.22 776.20,257.86 776.39,256.29 776.46,254.63 776.98,253.32 777.38,251.31 777.57,249.71 777.86,248.42 778.08,246.92 778.51,247.75 778.79,248.26 779.15,249.23 779.33,250.12 779.69,250.97 780.07,252.45 780.30,253.81 780.90,255.04 781.30,256.17 781.55,257.91 781.69,257.93 782.00,258.00 782.58,257.98 782.76,257.83 782.92,257.89 783.67,258.05 783.66,258.12 783.94,257.98 784.46,258.32 784.65,258.05 785.25,258.19 785.40,258.08 785.61,257.94 785.85,258.23 786.47,257.92 786.79,257.68 786.72,258.00 787.10,258.12 787.74,258.18 787.65,258.45 788.19,258.67 788.15,259.10 788.65,259.10 789.00,259.61 789.35,260.00 789.69,260.56 790.22,260.63 790.24,261.43 790.55,261.72 791.07,262.12 791.53,262.63 791.44,262.97 791.92,263.42 792.18,263.71 792.68,264.37 792.74,264.65 793.10,265.09 793.51,265.54 793.61,266.04 793.96,267.03 794.29,267.39 794.95,267.96 794.97,268.77 795.66,268.74 795.68,269.61 796.25,270.22 796.51,270.83 796.81,271.58 796.92,272.58 797.47,273.33 797.63,273.74 798.04,274.81 798.45,275.85 798.43,276.47 799.04,277.29 799.14,278.06 799.64,279.51 800.14,279.74 800.29,280.74 800.57,281.53 801.02,282.74 800.87,283.35 801.21,283.68 801.59,284.96 802.25,285.33 802.22,286.25 802.62,287.54 802.84,288.40 803.35,289.75 803.39,290.41 803.86,291.65 804.34,292.37 804.50,293.45 804.85,294.15 804.86,295.24 805.57,296.45 805.67,297.47 805.91,298.51 806.36,299.71 806.71,300.92 806.84,302.18 807.23,303.13 807.38,304.30 808.10,305.77 807.99,306.98 808.49,308.85 808.65,310.06 809.09,311.04 809.55,312.33 809.48,313.74 810.08,315.09 810.19,316.53 810.78,317.79 810.87,318.90 811.31,319.66 811.26,320.88 811.61,322.04 812.03,323.73 812.31,324.79 812.46,325.80 813.27,327.80 813.40,330.50 813.87,332.59 814.02,334.78 814.58,336.90 815.00,338.58 815.33,340.93 815.52,341.83 816.39,342.24 816.17,343.56 816.19,344.79 816.93,346.50 816.78,347.22 817.07,347.45 818.25,348.31 817.25,349.14 818.59,349.74 818.89,351.07 819.09,351.18 818.47,351.83 819.16,352.99 818.92,353.80 819.85,354.21 820.38,356.22 820.49,356.77 820.87,357.68 821.08,358.84 821.57,359.82 821.80,361.54 822.38,363.47 822.51,365.92 823.18,367.78 823.14,369.90 823.86,370.92 824.00,372.25 824.32,373.30 824.62,374.94 825.06,375.92 825.20,377.05 825.35,378.10 825.97,378.69 826.30,379.52 826.50,380.25 826.90,381.30 827.20,381.50 827.50,381.70 827.80,381.90 828.10,382.10 828.40,382.30 828.70,382.50 829.00,382.70 829.31,382.70 829.62,382.70 829.92,382.70 830.23,382.70 830.54,382.70 830.85,382.70 831.15,382.70 831.46,382.70 831.77,382.70 832.08,382.70 832.38,382.70 832.69,382.70 833.00,382.70 833.33,382.70 833.67,382.70 834.00,382.70 834.30,382.70 834.60,382.70 834.90,382.70 835.20,382.70 835.51,382.70 835.81,382.70 836.11,382.70 836.41,382.70 836.71,382.70 837.01,382.70 837.31,382.70 837.61,382.70 837.91,382.70 838.21,382.70 838.52,382.70 838.82,382.70 839.12,382.70 839.42,382.70 839.72,382.70 840.02,382.70 840.32,382.70 840.62,382.70 840.92,382.70 841.22,382.70 841.53,382.70 841.83,382.70 842.13,382.70 842.43,382.70 842.73,382.70 843.03,382.70 843.33,382.70 843.63,382.70 843.93,382.70 844.23,382.70 844.54,382.70 844.84,382.70 845.14,382.70 845.44,382.70 845.74,382.70 846.04,382.70 846.34,382.70 846.64,382.70 846.94,382.70 847.24,382.70 847.55,382.70 847.85,382.70 848.15,382.70 848.45,382.70 848.75,382.70 849.05,382.70 849.35,382.70 849.65,382.70 849.95,382.70 850.26,382.70 850.56,382.70 850.86,382.70 851.16,382.70 851.46,382.70 851.76,382.70 852.06,382.70 852.36,382.70 852.66,382.70 852.96,382.70 853.27,382.70 853.57,382.70 853.87,382.70 854.17,382.70 854.47,382.70 854.77,382.70 855.07,382.70 855.37,382.70 855.67,382.70 855.97,382.70 856.28,382.70 856.58,382.70 856.88,382.70 857.18,382.70 857.48,382.70 857.78,382.70 858.08,382.70 858.38,382.70 858.68,382.70 858.98,382.70 859.29,382.70 859.59,382.70 859.89,382.70 860.19,382.70 860.49,382.70 860.79,382.70 861.09,382.70 861.39,382.70 861.69,382.70 861.99,382.70 862.30,382.70 862.60,382.70 862.90,382.70 863.20,382.70 863.50,382.70 863.80,382.70 864.10,382.70 864.40,382.70 864.70,382.70 865.01,382.70 865.31,382.70 865.61,382.70 865.91,382.70 866.21,382.70 866.51,382.70 866.81,382.70 867.11,382.70 867.41,382.70 867.71,382.70 868.02,382.70 868.32,382.70 868.62,382.70 868.92,382.70 869.22,382.70 869.52,382.70 869.82,382.70 870.12,382.70 870.42,382.70 870.72,382.70 871.03,382.70 871.33,382.70 871.63,382.70 871.93,382.70 872.23,382.70 872.53,382.70 872.83,382.70 873.13,382.70 873.43,382.70 873.73,382.70 874.04,382.70 874.34,382.70 874.64,382.70 874.94,382.70 875.24,382.70 875.54,382.70 875.84,382.70 876.14,382.70 876.44,382.70 876.74,382.70 877.05,382.70 877.35,382.70 877.65,382.70 877.95,382.70 878.25,382.70 878.55,382.70 878.85,382.70 879.15,382.70 879.45,382.70 879.76,382.70 880.06,382.70 880.36,382.70 880.66,382.70 880.96,382.70 881.26,382.70 881.56,382.70 881.86,382.70 882.16,382.70 882.46,382.70 882.77,382.70 883.07,382.70 883.37,382.70 883.67,382.70 883.97,382.70 884.27,382.70 884.57,382.70 884.87,382.70 885.17,382.70 885.47,382.70 885.78,382.70 886.08,382.70 886.38,382.70 886.68,382.70 886.98,382.70 887.28,382.70 887.58,382.70 887.88,382.70 888.18,382.70 888.48,382.70 888.79,382.70 889.09,382.70 889.39,382.70 889.69,382.70 889.99,382.70 890.29,382.70 890.59,382.70 890.89,382.70 891.19,382.70 891.49,382.70 891.80,382.70 892.10,382.70 892.40,382.70 892.70,382.70 893.00,382.70 893.31,382.68 893.62,382.66 893.94,382.63 894.25,382.61 894.56,382.59 894.88,382.57 895.19,382.55 895.50,382.52 895.81,382.50 896.12,382.48 896.44,382.46 896.75,382.44 897.06,382.42 897.38,382.39 897.69,382.37 898.00,382.35 898.30,382.35 898.60,382.35 898.90,382.35 899.20,382.35 899.50,382.35 899.80,382.35 900.10,382.35 900.40,382.35 900.71,382.35 901.01,382.35 901.31,382.35 901.61,382.35 901.91,382.35 902.21,382.35 902.51,382.35 902.81,382.35 903.11,382.35 903.41,382.35 903.71,382.35 904.01,382.35 904.31,382.35 904.61,382.35 904.91,382.35 905.21,382.35 905.51,382.35 905.82,382.35 906.12,382.35 906.42,382.35 906.72,382.35 907.02,382.35 907.32,382.35 907.62,382.35 907.92,382.35 908.22,382.35 908.52,382.35 908.82,382.35 909.12,382.35 909.42,382.35 909.72,382.35 910.02,382.35 910.32,382.35 910.62,382.35 910.92,382.35 911.23,382.35 911.53,382.35 911.83,382.35 912.13,382.35 912.43,382.35 912.73,382.35 913.03,382.35 913.33,382.35 913.63,382.35 913.93,382.35 914.23,382.35 914.53,382.35 914.83,382.35 915.13,382.35 915.43,382.35 915.73,382.35 916.03,382.35 916.34,382.35 916.64,382.35 916.94,382.35 917.24,382.35 917.54,382.35 917.84,382.35 918.14,382.35 918.44,382.35 918.74,382.35 919.04,382.35 919.34,382.35 919.64,382.35 919.94,382.35 920.24,382.35 920.54,382.35 920.84,382.35 921.14,382.35 921.45,382.35 921.75,382.35 922.05,382.35 922.35,382.35 922.65,382.35 922.95,382.35 923.25,382.35 923.55,382.35 923.85,382.35 924.15,382.35 924.45,382.35 924.75,382.35 925.05,382.35 925.35,382.35 925.65,382.35 925.95,382.35 926.25,382.35 926.55,382.35 926.86,382.35 927.16,382.35 927.46,382.35 927.76,382.35 928.06,382.35 928.36,382.35 928.66,382.35 928.96,382.35 929.26,382.35 929.56,382.35 929.86,382.35 930.16,382.35 930.46,382.35 930.76,382.35 931.06,382.35 931.36,382.35 931.66,382.35 931.97,382.35 932.27,382.35 932.57,382.35 932.87,382.35 933.17,382.35 933.47,382.35 933.77,382.35 934.07,382.35 934.37,382.35 934.67,382.35 934.97,382.35 935.27,382.35 935.57,382.35 935.87,382.35 936.17,382.35 936.47,382.35 936.77,382.35 937.08,382.35 937.38,382.35 937.68,382.35 937.98,382.35 938.28,382.35 938.58,382.35 938.88,382.35 939.18,382.35 939.48,382.35 939.78,382.35 940.08,382.35 940.38,382.35 940.68,382.35 940.98,382.35 941.28,382.35 941.58,382.35 941.88,382.35 942.18,382.35 942.49,382.35 942.79,382.35 943.09,382.35 943.39,382.35 943.69,382.35 943.99,382.35 944.29,382.35 944.59,382.35 944.89,382.35 945.19,382.35 945.49,382.35 945.79,382.35 946.09,382.35 946.39,382.35 946.69,382.35 946.99,382.35 947.29,382.35 947.60,382.35 947.90,382.35 948.20,382.35 948.50,382.35 948.80,382.35 949.10,382.35 949.40,382.35 949.70,382.35 950.00,382.35 950.33,382.33 950.67,382.32 951.00,382.30 951.31,382.20 951.62,382.10 951.92,382.00 952.23,381.90 952.54,381.80 952.85,381.70 953.15,381.60 953.46,381.50 953.77,381.40 954.08,381.30 954.38,381.20 954.69,381.10 955.10,381.20 955.35,379.27 955.79,380.02 956.09,380.01 956.76,378.36 956.64,380.30 957.24,377.98 957.57,379.29 957.57,378.36 957.63,378.12 958.32,375.42 959.01,376.00 959.44,375.92 959.60,374.43 960.09,372.58 960.27,373.79 959.95,373.46 960.45,372.10 961.17,370.55 960.88,371.20 960.97,370.35 961.99,369.57 961.74,369.84 962.66,369.96 962.65,370.54 963.20,368.62 963.07,368.68 963.04,369.57 964.16,371.13 963.72,369.51 964.29,371.58 964.82,371.93 964.57,372.37 965.01,371.26 965.98,371.44 965.60,371.17 966.13,369.24 966.34,369.98 966.93,369.78 967.20,370.85 967.08,369.16 967.89,370.01 967.63,368.92 968.74,369.81 968.46,368.15 969.39,369.04 969.44,367.61 969.31,367.24 969.45,367.37 970.02,367.40 970.31,365.88 970.71,366.74 970.85,365.57 971.07,363.89 971.45,363.38 971.79,361.99 972.51,359.54 973.10,358.02 973.24,357.28 973.28,355.11 973.59,355.05 973.94,356.27 974.13,354.88 974.84,352.95 974.91,351.97 975.73,351.30 975.59,350.56 976.38,351.40 976.44,349.18 976.19,349.59 976.51,346.45 977.18,348.89 977.87,348.38 978.48,351.80 977.76,351.53 978.63,351.45 978.96,352.26 979.54,352.76 980.23,353.57 980.59,350.58 980.73,350.93 980.91,351.66 980.48,348.85 981.21,344.96 981.33,341.63 981.65,334.48 981.90,325.95 982.94,316.08 982.58,309.72 983.45,301.47 983.30,306.62 984.18,311.35 983.74,315.00 983.92,321.44 985.38,329.08 984.63,334.40 985.57,341.13 985.38,348.16 985.98,353.02 986.12,359.19 986.43,358.25 987.11,359.22 987.68,359.49 987.61,359.35 987.72,360.86 988.39,359.55 989.02,357.23 989.35,356.03 989.80,355.74 989.57,354.65 990.36,354.30 990.25,351.96 990.32,354.56 991.23,354.60 990.99,354.42 991.20,353.58 991.80,356.31 992.48,356.97 992.21,356.77 992.58,357.33 992.95,360.17 993.50,359.97 994.15,362.08 994.78,362.19 994.67,364.13 994.89,363.44 995.57,364.32 995.53,365.80 995.98,366.60 996.26,364.86 996.22,363.94 996.56,361.08 997.38,358.72 997.39,355.88 997.87,354.48 998.28,353.44 998.85,353.36 998.41,352.34 999.67,350.42 999.59,352.29 999.67,350.47 999.97,348.84 1000.51,348.85 1000.52,347.79 1001.02,347.71 1000.85,347.12 1001.35,348.88 1002.20,350.57 1002.56,351.77 1002.29,353.80 1002.40,356.12 1003.46,355.74 1003.25,358.58 1004.04,359.55 1003.62,361.35 1003.92,362.42 1004.74,364.73 1005.14,363.66 1005.77,361.37 1005.76,354.94 1006.26,351.75 1006.54,348.99 1007.12,342.11 1007.31,340.23 1007.60,337.16 1007.62,334.42 1007.62,331.20 1008.53,333.40 1008.22,338.44 1009.07,340.53 1008.81,342.23 1009.41,350.42 1010.06,356.18 1010.05,351.42 1010.72,349.27 1010.64,346.03 1011.33,340.33 1011.63,337.96 1012.19,340.18 1012.33,340.19 1012.55,341.12 1012.59,341.70 1012.97,341.94 1013.35,338.77 1013.66,336.28 1014.44,334.26 1014.59,331.91 1015.36,329.96 1015.42,328.97 1016.14,327.20 1016.18,325.59 1016.06,325.65 1016.67,328.89 1016.46,335.06 1017.08,339.33 1017.43,343.63 1017.90,345.97 1018.59,345.86 1018.51,346.57 1019.11,347.55 1019.01,350.97 1019.09,353.61 1019.97,356.24 1020.08,358.17 1021.05,362.94 1021.26,364.12 1021.58,367.51 1021.33,366.46 1022.08,363.37 1022.56,362.73 1023.03,361.75 1023.16,358.25 1023.75,357.31 1023.43,355.70 1024.21,352.04 1024.07,349.36 1024.70,348.01 1024.79,346.01 1024.97,349.32 1025.45,351.42 1025.80,354.71 1026.73,356.39 1027.06,360.99 1027.13,361.46 1027.57,362.78 1027.82,365.19 1028.26,364.69 1027.85,367.92 1028.50,366.16 1028.71,363.89 1029.19,363.32 1030.10,361.36 1030.07,359.58 1030.07,359.92 1030.29,358.55 1031.18,354.78 1031.76,353.53 1031.77,352.24 1032.51,355.77 1032.71,358.07 1032.83,361.09 1032.51,365.50 1033.78,368.82 1033.97,369.52 1033.95,367.97 1034.26,368.69 1034.58,369.59 1034.86,369.58 1035.38,370.62 1035.47,370.10 1035.79,371.86 1036.59,372.28 1036.06,371.97 1036.57,373.50 1037.49,374.68 1037.81,374.95 1038.03,375.39 1037.51,374.56 1038.39,375.52 1038.73,375.73 1039.36,374.67 1039.26,377.52 1039.08,375.56 1040.23,378.34 1039.70,376.16 1040.82,378.42 1040.82,378.52 1041.37,379.59 1040.93,377.94 1042.03,380.91 1042.38,379.74 1042.20,380.00 1042.19,381.61 1042.99,381.27 1043.30,381.70 1043.60,381.76 1043.90,381.81 1044.20,381.87 1044.50,381.92 1044.80,381.98 1045.10,382.03 1045.40,382.09 1045.70,382.14 1046.00,382.20 1046.33,382.22 1046.67,382.23 1047.00,382.25 1047.30,382.25 1047.60,382.25 1047.90,382.25 1048.20,382.25 1048.50,382.25 1048.80,382.25 1049.10,382.25 1049.40,382.25 1049.70,382.25 1050.00,382.25 1050.30,382.25 1050.60,382.25 1050.90,382.25 1051.20,382.25 1051.50,382.25 1051.80,382.25 1052.10,382.25 1052.40,382.25 1052.70,382.25 1053.00,382.25 1053.30,382.25 1053.60,382.25 1053.90,382.25 1054.20,382.25 1054.50,382.25 1054.80,382.25 1055.10,382.25 1055.40,382.25 1055.70,382.25 1056.00,382.25 1056.30,382.25 1056.60,382.25 1056.90,382.25 1057.20,382.25 1057.50,382.25 1057.80,382.25 1058.10,382.25 1058.40,382.25 1058.70,382.25 1059.00,382.25 1059.30,382.25 1059.60,382.25 1059.90,382.25 1060.20,382.25 1060.50,382.25 1060.80,382.25 1061.10,382.25 1061.40,382.25 1061.70,382.25 1062.00,382.25 1062.30,382.25 1062.60,382.25 1062.90,382.25 1063.20,382.25 1063.50,382.25 1063.80,382.25 1064.10,382.25 1064.40,382.25 1064.70,382.25 1065.00,382.25 1065.30,382.25 1065.60,382.25 1065.90,382.25 1066.20,382.25 1066.50,382.25 1066.80,382.25 1067.10,382.25 1067.40,382.25 1067.70,382.25 1068.00,382.25 1068.30,382.25 1068.60,382.25 1068.90,382.25 1069.20,382.25 1069.50,382.25 1069.80,382.25 1070.10,382.25 1070.40,382.25 1070.70,382.25 1071.00,382.25 1071.30,382.25 1071.60,382.25 1071.90,382.25 1072.20,382.25 1072.50,382.25 1072.80,382.25 1073.10,382.25 1073.40,382.25 1073.70,382.25 1074.00,382.25 1074.30,382.25 1074.60,382.25 1074.90,382.25 1075.20,382.25 1075.50,382.25 1075.80,382.25 1076.10,382.25 1076.40,382.25 1076.70,382.25 1077.00,382.25 1077.30,382.25 1077.60,382.25 1077.90,382.25 1078.20,382.25 1078.50,382.25 1078.80,382.25 1079.10,382.25 1079.40,382.25 1079.70,382.25 1080.00,382.25 1080.30,382.25 1080.60,382.25 1080.90,382.25 1081.20,382.25 1081.50,382.25 1081.80,382.25 1082.10,382.25 1082.40,382.25 1082.70,382.25 1083.00,382.25 1083.30,382.25 1083.60,382.25 1083.90,382.25 1084.20,382.25 1084.50,382.25 1084.80,382.25 1085.10,382.25 1085.40,382.25 1085.70,382.25 1086.00,382.25 1086.30,382.25 1086.60,382.25 1086.90,382.25 1087.20,382.25 1087.50,382.25 1087.80,382.25 1088.10,382.25 1088.40,382.25 1088.70,382.25 1089.00,382.25 1089.30,382.25 1089.60,382.25 1089.90,382.25 1090.20,382.25 1090.50,382.25 1090.80,382.25 1091.10,382.25 1091.40,382.25 1091.70,382.25 1092.00,382.25 1092.30,382.25 1092.60,382.25 1092.90,382.25 1093.20,382.25 1093.50,382.25 1093.80,382.25 1094.10,382.25 1094.40,382.25 1094.70,382.25 1095.00,382.25 1095.30,382.25 1095.60,382.25 1095.90,382.25 1096.20,382.25 1096.50,382.25 1096.80,382.25 1097.10,382.25 1097.40,382.25 1097.70,382.25 1098.00,382.25 1098.30,382.25 1098.60,382.25 1098.90,382.25 1099.20,382.25 1099.50,382.25 1099.80,382.25 1100.10,382.25 1100.40,382.25 1100.70,382.25 1101.00,382.25 1101.30,382.25 1101.60,382.25 1101.90,382.25 1102.20,382.25 1102.50,382.25 1102.80,382.25 1103.10,382.25 1103.40,382.25 1103.70,382.25 1104.00,382.25 1104.30,382.25 1104.60,382.25 1104.90,382.25 1105.20,382.25 1105.50,382.25 1105.80,382.25 1106.10,382.25 1106.40,382.25 1106.70,382.25 1107.00,382.25 1107.30,382.25 1107.60,382.25 1107.90,382.25 1108.20,382.25 1108.50,382.25 1108.80,382.25 1109.10,382.25 1109.40,382.25 1109.70,382.25 1110.00,382.25 1110.30,382.25 1110.60,382.25 1110.90,382.25 1111.20,382.25 1111.50,382.25 1111.80,382.25 1112.10,382.25 1112.40,382.25 1112.70,382.25 1113.00,382.25 1113.30,382.25 1113.60,382.25 1113.90,382.25 1114.20,382.25 1114.50,382.25 1114.80,382.25 1115.10,382.25 1115.40,382.25 1115.70,382.25 1116.00,382.25 1116.30,382.25 1116.60,382.25 1116.90,382.25 1117.20,382.25 1117.50,382.25 1117.80,382.25 1118.10,382.25 1118.40,382.25 1118.70,382.25 1119.00,382.25 1119.30,382.25 1119.60,382.25 1119.90,382.25 1120.20,382.25 1120.50,382.25 1120.80,382.25 1121.10,382.25 1121.40,382.25 1121.70,382.25 1122.00,382.25 1122.30,382.25 1122.60,382.25 1122.90,382.25 1123.20,382.25 1123.50,382.25 1123.80,382.25 1124.10,382.25 1124.40,382.25 1124.70,382.25 1125.00,382.25 1125.30,382.25 1125.60,382.25 1125.90,382.25 1126.20,382.25 1126.50,382.25 1126.80,382.25 1127.10,382.25 1127.40,382.25 1127.70,382.25 1128.00,382.25 1128.30,382.25 1128.60,382.25 1128.90,382.25 1129.20,382.25 1129.50,382.25 1129.80,382.25 1130.10,382.25 1130.40,382.25 1130.70,382.25 1131.00,382.25 1131.30,382.25 1131.60,382.25 1131.90,382.25 1132.20,382.25 1132.50,382.25 1132.80,382.25 1133.10,382.25 1133.40,382.25 1133.70,382.25 1134.00,382.25 1134.30,382.25 1134.60,382.25 1134.90,382.25 1135.20,382.25 1135.50,382.25 1135.80,382.25 1136.10,382.25 1136.40,382.25 1136.70,382.25 1137.00,382.25 1137.30,382.25 1137.60,382.25 1137.90,382.25 1138.20,382.25 1138.50,382.25 1138.80,382.25 1139.10,382.25 1139.40,382.25 1139.70,382.25 1140.00,382.25 1140.30,382.25 1140.60,382.25 1140.90,382.25 1141.20,382.25 1141.50,382.25 1141.80,382.25 1142.10,382.25 1142.40,382.25 1142.70,382.25 1143.00,382.25 1143.30,382.25 1143.60,382.25 1143.90,382.25 1144.20,382.25 1144.50,382.25 1144.80,382.25 1145.10,382.25 1145.40,382.25 1145.70,382.25 1146.00,382.25 1146.30,382.25 1146.60,382.25 1146.90,382.25 1147.20,382.25 1147.50,382.25 1147.80,382.25 1148.10,382.25 1148.40,382.25 1148.70,382.25 1149.00,382.25 1149.30,382.25 1149.60,382.25 1149.90,382.25 1150.20,382.25 1150.50,382.25 1150.80,382.25 1151.10,382.25 1151.40,382.25 1151.70,382.25 1152.00,382.25 1152.30,382.25 1152.60,382.25 1152.90,382.25 1153.20,382.25 1153.50,382.25 1153.80,382.25 1154.10,382.25 1154.40,382.25 1154.70,382.25 1155.00,382.25 1155.30,382.25 1155.60,382.25 1155.90,382.25 1156.20,382.25 1156.50,382.25 1156.80,382.25 1157.10,382.25 1157.40,382.25 1157.70,382.25 1158.00,382.25 1158.30,382.25 1158.60,382.25 1158.90,382.25 1159.20,382.25 1159.50,382.25 1159.80,382.25 1160.10,382.25 1160.40,382.25 1160.70,382.25 1161.00,382.25 1161.30,382.25 1161.60,382.25 1161.90,382.25 1162.20,382.25 1162.50,382.25 1162.80,382.25 1163.10,382.25 1163.40,382.25 1163.70,382.25 1164.00,382.25 1164.33,382.17 1164.67,382.08 1165.00,382.00 1165.30,381.92 1165.60,381.84 1165.90,381.76 1166.20,381.68 1166.50,381.60 1166.80,381.52 1167.10,381.44 1167.40,381.36 1167.70,381.28 1168.00,381.20 1168.30,381.12 1168.60,381.04 1168.85,380.98 1169.21,380.85 1169.53,380.79 1169.75,380.80 1170.04,380.57 1170.35,380.56 1170.76,380.45 1170.95,380.43 1171.25,380.32 1171.55,380.32 1171.84,380.11 1172.00,379.60 1172.73,380.49 1173.11,379.86 1172.72,380.23 1173.21,378.44 1173.70,380.35 1173.98,378.32 1174.84,379.84 1174.64,377.19 1175.37,378.75 1175.24,378.51 1175.59,377.07 1176.12,378.31 1176.31,378.49 1176.16,377.56 1176.84,376.32 1177.68,376.50 1177.28,378.53 1178.35,378.64 1178.04,378.61 1178.15,377.37 1179.27,375.27 1178.77,376.00 1179.83,375.50 1180.20,374.10 1179.94,372.54 1180.15,374.20 1180.26,371.45 1180.85,370.44 1181.12,370.20 1181.26,370.54 1181.99,370.04 1182.53,369.31 1183.03,367.44 1182.62,366.81 1183.03,369.03 1183.96,368.61 1183.51,368.43 1184.24,368.62 1184.78,370.82 1184.76,370.09 1185.46,370.17 1185.12,371.98 1186.23,369.87 1186.33,371.39 1185.94,371.19 1186.37,373.26 1186.74,369.60 1187.07,370.14 1187.67,368.08 1187.97,365.11 1187.82,367.15 1188.14,368.73 1189.02,370.73 1189.17,373.15 1189.32,374.10 1190.20,373.94 1190.05,373.05 1190.41,371.68 1191.18,370.62 1191.52,371.57 1191.78,368.86 1191.73,368.96 1191.78,364.22 1192.62,362.25 1192.77,359.77 1193.52,358.02 1192.82,357.27 1193.43,356.50 1193.93,357.49 1194.27,355.21 1193.97,355.32 1194.61,355.28 1195.36,354.56 1195.01,353.95 1195.78,353.73 1196.66,351.69 1196.33,350.24 1197.06,350.04 1197.41,350.81 1197.04,349.92 1197.65,346.93 1198.03,347.54 1198.27,344.60 1198.35,344.63 1198.93,346.13 1198.89,348.97 1199.98,354.39 1200.47,358.10 1200.40,358.38 1200.74,359.37 1201.15,358.54 1201.48,359.85 1201.23,362.52 1201.32,362.33 1201.96,361.07 1202.54,359.35 1203.18,356.55 1202.63,354.57 1202.99,353.40 1204.07,349.47 1203.69,350.06 1204.56,350.40 1204.72,347.51 1205.13,346.84 1205.57,348.35 1205.79,350.47 1205.87,352.48 1206.24,353.04 1206.28,354.47 1206.22,355.75 1207.32,355.26 1207.49,356.11 1207.85,354.70 1207.80,353.34 1207.99,353.71 1208.79,354.04 1208.73,353.50 1209.61,351.21 1209.98,353.68 1210.31,355.67 1210.01,355.83 1210.52,357.97 1210.38,358.02 1211.22,355.92 1211.76,354.30 1211.56,354.23 1211.94,352.52 1212.12,354.00 1212.76,357.58 1213.70,360.14 1213.51,361.74 1213.69,362.25 1214.76,361.59 1214.58,363.49 1215.26,363.45 1215.48,361.87 1216.08,357.28 1216.06,356.71 1216.39,351.79 1216.97,348.76 1216.67,349.48 1217.11,349.30 1217.89,347.51 1218.25,347.77 1218.51,346.58 1218.57,345.92 1218.95,348.61 1219.71,346.42 1219.23,347.33 1220.19,348.13 1219.95,347.27 1220.72,347.33 1220.88,346.24 1221.48,345.32 1221.15,343.09 1221.53,338.75 1222.16,336.15 1221.90,334.69 1222.80,330.90 1223.82,329.99 1223.50,326.25 1223.60,324.35 1223.67,319.45 1224.21,296.02 1224.91,283.25 1225.06,273.08 1225.16,261.32 1226.09,271.86 1225.91,283.32 1226.33,294.48 1226.94,303.08 1226.86,312.43 1227.44,319.93 1228.43,324.02 1228.13,329.41 1229.31,327.44 1228.84,325.46 1229.66,322.75 1229.97,322.92 1230.22,320.47 1230.28,323.09 1230.41,326.08 1231.06,329.32 1231.20,331.23 1231.22,333.07 1232.29,336.63 1232.45,340.52 1232.56,346.68 1232.68,350.46 1232.86,353.53 1233.96,349.92 1233.87,344.91 1234.53,341.07 1234.91,336.24 1234.75,332.27 1235.46,337.62 1236.29,342.28 1236.38,350.61 1236.63,360.16 1236.47,366.89 1237.06,367.24 1237.03,368.15 1238.09,368.81 1237.82,369.76 1238.29,368.46 1238.81,369.89 1239.05,368.88 1239.42,366.27 1239.53,363.22 1239.58,359.44 1240.53,350.33 1241.01,339.26 1240.79,329.00 1241.40,317.87 1241.57,309.44 1241.75,321.47 1242.87,336.21 1242.65,339.10 1242.92,343.84 1243.89,344.42 1243.66,342.47 1244.40,339.93 1244.82,341.01 1244.51,345.97 1245.30,350.34 1245.78,355.41 1245.67,361.08 1245.94,367.87 1246.40,362.31 1247.15,356.23 1246.72,352.34 1246.98,350.30 1247.49,345.83 1247.91,343.92 1248.72,340.50 1248.27,342.59 1249.11,345.21 1249.58,350.04 1249.23,351.62 1249.56,356.95 1249.71,361.21 1250.06,365.96 1250.84,367.31 1250.70,367.87 1251.25,372.58 1251.80,374.31 1251.58,372.81 1251.85,375.10 1252.31,374.54 1253.12,376.35 1253.08,376.33 1253.36,377.22 1253.74,377.28 1253.95,377.72 1254.29,377.20 1254.67,379.06 1254.96,377.97 1255.87,379.21 1255.86,379.02 1256.57,380.51 1256.63,380.50 1257.03,380.30 1257.15,380.53 1257.50,380.79 1257.84,380.92 1258.16,381.02 1258.49,381.13 1258.82,381.24 1259.15,381.35 1259.48,381.46 1259.81,381.57 1260.14,381.68 1260.47,381.79 1260.80,381.90 1261.10,381.93 1261.40,381.97 1261.70,382.00 1262.00,382.03 1262.30,382.07 1262.60,382.10 1262.90,382.13 1263.20,382.17 1263.50,382.20 1263.80,382.23 1264.10,382.27 1264.40,382.30" fill="none" stroke="#bfbf00" stroke-width="3.125" stroke-linejoin="round" stroke-linecap="square"/>
<polygon points="736.00,381.00 738.50,380.30 741.50,378.60 744.90,374.00 746.60,367.90 747.80,359.30 748.40,355.70 750.50,351.50 751.80,348.30 753.30,341.50 754.60,330.00 755.80,320.00 756.00,312.00 756.40,305.00 757.00,302.00 758.00,300.80 759.20,301.30 760.00,304.00 760.30,310.00 760.10,320.00 760.10,334.00 760.80,338.50 761.70,337.00 761.90,320.00 762.10,300.00 762.60,290.00 763.50,285.50 764.80,284.20 765.90,285.20 766.60,290.00 767.10,300.00 767.20,316.00 767.60,320.50 768.00,316.00 768.00,300.00 768.40,290.00 769.20,280.00 769.80,265.00 770.20,240.00 770.40,232.00 771.00,229.30 771.60,228.70 772.60,229.50 773.30,230.90 774.20,235.30 775.10,239.80 775.50,250.00 776.00,253.50 776.40,250.00 776.80,247.00 777.40,245.50 778.20,245.10 779.30,246.00 780.00,247.80 781.30,251.30 782.20,255.80 783.00,256.20 783.00,259.30 780.00,259.80 778.00,260.20 777.70,260.30 776.90,263.00 776.30,267.40 775.20,280.00 774.70,295.00 774.70,301.70 773.30,314.30 771.80,320.00 770.60,326.00 770.00,333.00 769.60,338.00 768.70,349.30 767.30,353.30 764.70,352.90 762.90,352.00 759.90,351.50 758.90,357.80 757.40,365.60 755.40,369.40 753.90,371.40 751.60,371.00 750.00,374.10 748.40,377.20 746.10,379.90 743.80,381.50 736.00,382.50" fill="#bfbf00" stroke="#bfbf00" stroke-width="0.6" stroke-linejoin="round"/>
<polygon points="815.60,345.00 818.20,347.00 820.30,352.00 820.10,362.00 819.30,371.00 817.60,371.30 816.30,362.00 815.60,352.00" fill="#bfbf00" stroke="#bfbf00" stroke-width="0.6" stroke-linejoin="round"/>
<line x1="196.5" y1="383.8" x2="196.5" y2="54.0" stroke="#000" stroke-width="3.125" stroke-dasharray="11.5625 5"/>
<line x1="411.5" y1="383.8" x2="411.5" y2="54.0" stroke="#000" stroke-width="3.125" stroke-dasharray="11.5625 5"/>
<line x1="626.5" y1="383.8" x2="626.5" y2="54.0" stroke="#000" stroke-width="3.125" stroke-dasharray="11.5625 5"/>
<line x1="841.5" y1="383.8" x2="841.5" y2="54.0" stroke="#000" stroke-width="3.125" stroke-dasharray="11.5625 5"/>
<line x1="1055.5" y1="383.8" x2="1055.5" y2="54.0" stroke="#000" stroke-width="3.125" stroke-dasharray="11.5625 5"/>
</g>
<text x="204.00" y="81.2" font-size="18.75" fill="#333333">12/19</text>
<text x="419.00" y="81.2" font-size="18.75" fill="#333333">12/20</text>
<text x="634.00" y="81.2" font-size="18.75" fill="#333333">12/21</text>
<text x="849.00" y="81.2" font-size="18.75" fill="#333333">12/22</text>
<text x="1063.00" y="81.2" font-size="18.75" fill="#333333">12/23</text>
<path d="M188 384V53M1350 384V53M187 54H1351M187 383H1351" fill="none" stroke="#000" stroke-width="2"/>
<line x1="188" y1="383" x2="188" y2="390.29" stroke="#000" stroke-width="2"/>
<text x="187.50" y="412.9" font-size="20.833" text-anchor="middle">23</text>
<line x1="277" y1="383" x2="277" y2="390.29" stroke="#000" stroke-width="2"/>
<text x="276.92" y="412.9" font-size="20.833" text-anchor="middle">8</text>
<line x1="366" y1="383" x2="366" y2="390.29" stroke="#000" stroke-width="2"/>
<text x="366.35" y="412.9" font-size="20.833" text-anchor="middle">18</text>
<line x1="456" y1="383" x2="456" y2="390.29" stroke="#000" stroke-width="2"/>
<text x="455.77" y="412.9" font-size="20.833" text-anchor="middle">4</text>
<line x1="545" y1="383" x2="545" y2="390.29" stroke="#000" stroke-width="2"/>
<text x="545.19" y="412.9" font-size="20.833" text-anchor="middle">14</text>
<line x1="635" y1="383" x2="635" y2="390.29" stroke="#000" stroke-width="2"/>
<text x="634.62" y="412.9" font-size="20.833" text-anchor="middle">0</text>
<line x1="724" y1="383" x2="724" y2="390.29" stroke="#000" stroke-width="2"/>
<text x="724.04" y="412.9" font-size="20.833" text-anchor="middle">10</text>
<line x1="813" y1="383" x2="813" y2="390.29" stroke="#000" stroke-width="2"/>
<text x="813.46" y="412.9" font-size="20.833" text-anchor="middle">20</text>
<line x1="903" y1="383" x2="903" y2="390.29" stroke="#000" stroke-width="2"/>
<text x="902.88" y="412.9" font-size="20.833" text-anchor="middle">6</text>
<line x1="992" y1="383" x2="992" y2="390.29" stroke="#000" stroke-width="2"/>
<text x="992.31" y="412.9" font-size="20.833" text-anchor="middle">16</text>
<line x1="1082" y1="383" x2="1082" y2="390.29" stroke="#000" stroke-width="2"/>
<text x="1081.73" y="412.9" font-size="20.833" text-anchor="middle">2</text>
<line x1="1171" y1="383" x2="1171" y2="390.29" stroke="#000" stroke-width="2"/>
<text x="1171.15" y="412.9" font-size="20.833" text-anchor="middle">12</text>
<line x1="1261" y1="383" x2="1261" y2="390.29" stroke="#000" stroke-width="2"/>
<text x="1260.58" y="412.9" font-size="20.833" text-anchor="middle">22</text>
<line x1="1350" y1="383" x2="1350" y2="390.29" stroke="#000" stroke-width="2"/>
<text x="1350.00" y="412.9" font-size="20.833" text-anchor="middle">8</text>
<line x1="180.71" y1="383" x2="188" y2="383" stroke="#000" stroke-width="2"/>
<line x1="1350" y1="383" x2="1357.29" y2="383" stroke="#000" stroke-width="2"/>
<text x="172.92" y="390.10" font-size="20.833" text-anchor="end">0</text>
<text x="1364.58" y="390.10" font-size="20.833" text-anchor="start">0</text>
<line x1="180.71" y1="328" x2="188" y2="328" stroke="#000" stroke-width="2"/>
<line x1="1350" y1="328" x2="1357.29" y2="328" stroke="#000" stroke-width="2"/>
<text x="172.92" y="335.35" font-size="20.833" text-anchor="end">200</text>
<text x="1364.58" y="335.35" font-size="20.833" text-anchor="start">200</text>
<line x1="180.71" y1="273" x2="188" y2="273" stroke="#000" stroke-width="2"/>
<line x1="1350" y1="273" x2="1357.29" y2="273" stroke="#000" stroke-width="2"/>
<text x="172.92" y="280.60" font-size="20.833" text-anchor="end">400</text>
<text x="1364.58" y="280.60" font-size="20.833" text-anchor="start">400</text>
<line x1="180.71" y1="218" x2="188" y2="218" stroke="#000" stroke-width="2"/>
<line x1="1350" y1="218" x2="1357.29" y2="218" stroke="#000" stroke-width="2"/>
<text x="172.92" y="225.85" font-size="20.833" text-anchor="end">600</text>
<text x="1364.58" y="225.85" font-size="20.833" text-anchor="start">600</text>
<line x1="180.71" y1="164" x2="188" y2="164" stroke="#000" stroke-width="2"/>
<line x1="1350" y1="164" x2="1357.29" y2="164" stroke="#000" stroke-width="2"/>
<text x="172.92" y="171.10" font-size="20.833" text-anchor="end">800</text>
<text x="1364.58" y="171.10" font-size="20.833" text-anchor="start">800</text>
<line x1="180.71" y1="109" x2="188" y2="109" stroke="#000" stroke-width="2"/>
<line x1="1350" y1="109" x2="1357.29" y2="109" stroke="#000" stroke-width="2"/>
<text x="172.92" y="116.35" font-size="20.833" text-anchor="end">1000</text>
<text x="1364.58" y="116.35" font-size="20.833" text-anchor="start">1000</text>
<line x1="180.71" y1="54" x2="188" y2="54" stroke="#000" stroke-width="2"/>
<line x1="1350" y1="54" x2="1357.29" y2="54" stroke="#000" stroke-width="2"/>
<text x="172.92" y="61.60" font-size="20.833" text-anchor="end">1200</text>
<text x="1364.58" y="61.60" font-size="20.833" text-anchor="start">1200</text>
<text x="768.75" y="441.0" font-size="20.833" text-anchor="middle" xml:space="preserve">12/18/25-12/23/25  Hours(UTC)</text>
<text transform="translate(107.2 219.7) rotate(-90)" font-size="20.833" text-anchor="middle">Wm⁻²</text>
<text transform="translate(1442.4 219.7) rotate(-90)" font-size="20.833" text-anchor="middle">Wm⁻²</text>
<rect x="188.15" y="10.85" width="397.8" height="35.85" rx="4.17" ry="4.17" fill="#ffffff" fill-opacity="0.8" stroke="#cccccc" stroke-opacity="0.8" stroke-width="2.08"/>
<line x1="196.4" y1="28.6" x2="238.1" y2="28.6" stroke="#bfbf00" stroke-width="3.125" stroke-linecap="square"/>
<text x="253.8" y="35.0" font-size="20.833">Solar Radiation</text>
<rect x="454.3" y="20.7" width="41.67" height="14.58" fill="#d3d3d3" fill-opacity="0.5" stroke="#d3d3d3" stroke-opacity="0.5" stroke-width="2.08"/>
<text x="511.6" y="35.0" font-size="20.833">NIGHT</text>
</svg>
</body></html>
